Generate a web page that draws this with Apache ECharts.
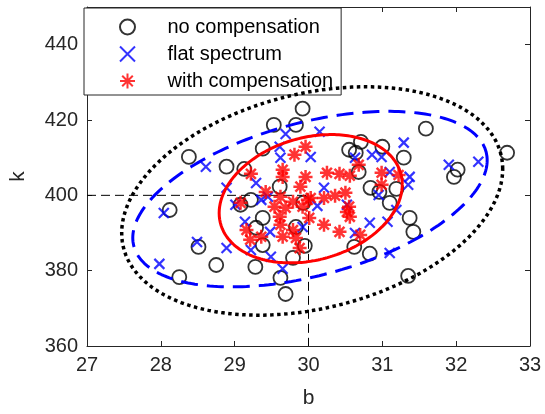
<!DOCTYPE html>
<html>
<head>
<meta charset="utf-8">
<script src="https://cdn.jsdelivr.net/npm/echarts@6/dist/echarts.min.js"></script>
<style>html,body{margin:0;padding:0;background:#fff}#c{width:545px;height:414px}</style>
</head>
<body>
<div id="c"></div>
<script>
// ---- data (b, k) ----
const noCompB = [29.92,29.83,29.53,29.38,28.38,28.89,29.13,31.59,32.69,30.55,30.64,30.71,31.00,31.29,30.68,30.84,30.96,31.19,32.02,31.97,29.61,29.22,29.93,29.08,28.12,28.51,28.75,28.25,29.38,29.29,29.38,29.28,29.79,29.62,29.69,29.95,29.83,31.10,31.37,31.42,30.62,30.83,31.35];
const noCompK = [423.0,418.7,418.7,412.4,410.2,407.6,407.0,417.7,411.3,412.1,411.3,414.2,412.9,410.0,406.2,402.0,400.9,401.7,406.8,404.9,402.3,398.8,398.0,397.5,396.1,386.3,381.5,378.3,394.0,391.4,386.8,381.0,383.4,378.1,373.8,386.6,391.6,398.0,394.0,390.3,386.3,384.5,378.6];

const flatB = [28.61,28.89,29.69,30.15,29.61,29.62,30.03,29.29,30.21,29.45,31.29,30.63,30.86,30.99,31.10,31.37,31.35,30.95,31.90,32.30,28.04,28.49,27.98,28.89,29.01,29.36,29.14,29.48,29.22,29.49,29.65,30.12,30.52,30.83,31.07,31.19,31.10,30.63,29.92];
const flatK = [407.6,402.0,416.3,416.9,412.9,410.0,410.2,403.3,402.0,399.6,414.0,410.0,410.8,410.2,406.2,404.9,402.8,400.1,408.1,408.9,395.3,387.6,381.8,386.0,397.5,398.8,393.0,390.3,385.5,383.7,380.5,397.2,397.5,392.7,393.0,396.1,384.7,390.0,391.6];

const withCompB = [29.96,29.81,29.65,29.65,29.22,29.42,29.89,30.25,30.42,30.56,30.68,30.99,31.22,30.99,30.50,30.36,29.08,29.62,29.79,29.92,29.54,29.61,29.16,29.21,29.36,29.79,29.65,29.83,29.88,29.99,29.69,29.62,30.21,30.01,30.03,30.21,30.55,30.56,30.42,30.70,30.52,29.96];
const withCompK = [412.9,410.8,406.8,404.9,405.7,400.9,402.3,406.0,405.7,405.2,408.1,406.0,405.4,402.8,400.7,399.9,398.0,399.6,398.3,397.0,397.0,394.3,390.8,388.2,389.0,390.8,389.0,388.7,386.0,398.8,396.7,392.2,392.2,394.0,399.3,399.3,397.0,394.3,390.3,389.5,395.6,404.9];

// ellipse parameters: [centre b, centre k, half-width in b, k-offset at b-extremes, remaining k half-extent]
const ellipseNoComp = [30.05, 398.5, 2.58, 8.5, 29.1];
const ellipseFlat   = [30.02, 399.0, 2.40, 10.3, 20.9];
const ellipseWith   = [30.03, 399.1, 1.24, 3.8, 16.6];

const refPoint = [30, 400];
const xTicks = [27, 28, 29, 30, 31, 32, 33];
const yTicks = [360, 380, 400, 420, 440];

const legendNames = ['no compensation', 'flat spectrum', 'with compensation'];

function zip(a, b) { return a.map((v, i) => [v, b[i]]); }
function ellipse(p) {
  const pts = [];
  const n = 240;
  for (let i = 0; i <= n; i++) {
    const t = 2 * Math.PI * i / n;
    pts.push([p[0] + p[2] * Math.cos(t), p[1] + p[3] * Math.cos(t) + p[4] * Math.sin(t)]);
  }
  return pts;
}

const FONT = '"Liberation Sans", Arial, Helvetica, sans-serif';
const AX = '#262626';

const crossPath = 'path://M0,0L10,10M10,0L0,10';
const starPath = 'path://M6,0L6,12M0,6L12,6M1.76,1.76L10.24,10.24M10.24,1.76L1.76,10.24';

const chart = echarts.init(document.getElementById('c'), null, {renderer: 'canvas'});
const baseX = {
  type: 'value', min: xTicks[0], max: xTicks[xTicks.length - 1], interval: 1,
  axisLine: {onZero: false, lineStyle: {color: AX, width: 1}},
  splitLine: {show: false},
  axisTick: {inside: true, length: 5, lineStyle: {color: AX}}
};
const baseY = {
  type: 'value', min: yTicks[0], max: 450, interval: 20,
  axisLine: {onZero: false, lineStyle: {color: AX, width: 1}},
  splitLine: {show: false},
  axisTick: {inside: true, length: 5, lineStyle: {color: AX}}
};

chart.setOption({
  animation: false,
  backgroundColor: '#fff',
  grid: {left: 82, right: 15, top: 7, bottom: 68, containLabel: false},
  xAxis: [
    Object.assign({}, baseX, {
      position: 'bottom',
      name: 'b', nameLocation: 'middle', nameGap: 42,
      nameTextStyle: {fontFamily: FONT, fontSize: 21, color: AX},
      axisLabel: {fontFamily: FONT, fontSize: 20, color: AX, margin: 9}
    }),
    Object.assign({}, baseX, {position: 'top', axisLabel: {show: false}})
  ],
  yAxis: [
    Object.assign({}, baseY, {
      position: 'left',
      name: 'k', nameLocation: 'middle', nameGap: 58, nameRotate: 90,
      nameTextStyle: {fontFamily: FONT, fontSize: 21, color: AX},
      axisLabel: {fontFamily: FONT, fontSize: 20, color: AX, margin: 9, showMaxLabel: false}
    }),
    Object.assign({}, baseY, {position: 'right', axisLabel: {show: false}})
  ],
  legend: {
    orient: 'vertical', left: 84, top: 8,
    data: legendNames,
    backgroundColor: '#fff', borderColor: '#262626', borderWidth: 1, borderRadius: 0,
    padding: [9, 8, 4, 35],
    itemWidth: 70, itemHeight: 15, itemGap: 7,
    textStyle: {fontFamily: FONT, fontSize: 20, color: '#000', lineHeight: 20}
  },
  series: [
    {
      type: 'line', silent: true, z: 1,
      data: [[xTicks[0], refPoint[1]], refPoint, [refPoint[0], yTicks[0]]],
      showSymbol: false, symbol: 'none',
      lineStyle: {color: '#000', width: 1, type: [9, 5]}
    },
    {
      name: legendNames[0], type: 'scatter', z: 3,
      data: zip(noCompB, noCompK),
      symbol: 'circle', symbolSize: 14,
      itemStyle: {color: 'rgba(0,0,0,0)', borderColor: '#000', borderWidth: 1.8}
    },
    {
      name: legendNames[1], type: 'scatter', z: 4,
      data: zip(flatB, flatK),
      symbol: crossPath, symbolSize: 10,
      itemStyle: {color: 'rgba(0,0,0,0)', borderColor: '#0000ff', borderWidth: 2.2}
    },
    {
      name: legendNames[2], type: 'scatter', z: 5,
      data: zip(withCompB, withCompK),
      symbol: starPath, symbolSize: 14,
      itemStyle: {color: 'rgba(0,0,0,0)', borderColor: '#ff0000', borderWidth: 2.5}
    },
    {
      type: 'line', silent: true, z: 6, data: ellipse(ellipseNoComp),
      showSymbol: false, symbol: 'none', smooth: false,
      lineStyle: {color: '#000', width: 3.5, type: [3.5, 3.5], cap: 'butt'}
    },
    {
      type: 'line', silent: true, z: 6, data: ellipse(ellipseFlat),
      showSymbol: false, symbol: 'none',
      lineStyle: {color: '#0000ff', width: 3, type: [17, 9], cap: 'butt'}
    },
    {
      type: 'line', silent: true, z: 6, data: ellipse(ellipseWith),
      showSymbol: false, symbol: 'none',
      lineStyle: {color: '#ff0000', width: 3}
    }
  ]
});
</script>
</body>
</html>
